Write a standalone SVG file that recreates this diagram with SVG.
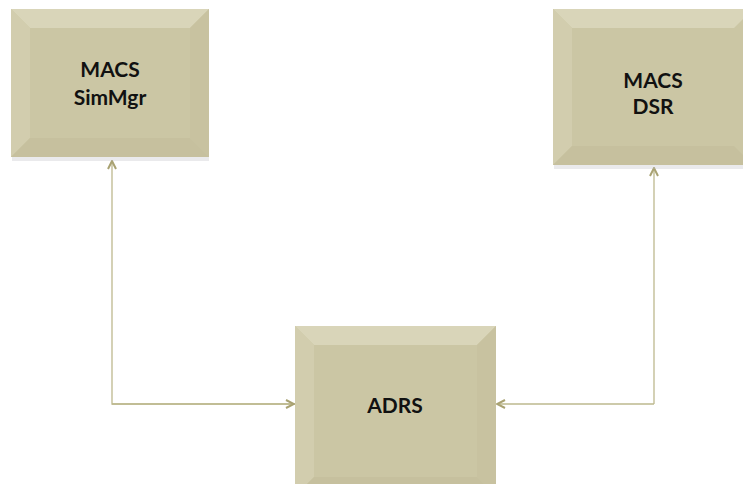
<svg xmlns="http://www.w3.org/2000/svg" width="743" height="484" viewBox="0 0 743 484">
<defs>
<style>
.face{fill:#CBC6A4}
.bt{fill:#D9D5B9}
.bl{fill:#D2CDAE}
.br{fill:#C8C2A0}
.bb{fill:#C6C09E}
.sh{fill:#B8B8C0;opacity:0.3}
.lbl{font-family:"Lato","Open Sans","Liberation Sans",sans-serif;font-weight:bold;font-size:21px;fill:#111;text-anchor:middle}
.conn{fill:none;stroke:#BDB88E;stroke-width:1.3}
</style>
<marker id="ah" viewBox="0 0 10 10" refX="9" refY="5" markerWidth="10" markerHeight="10" markerUnits="userSpaceOnUse" orient="auto">
<path d="M1,1 L9,5 L1,9" fill="none" stroke="#A9A272" stroke-width="2"/>
</marker>
</defs>
<rect width="743" height="484" fill="#FFFFFF"/>
<g id="connectors">
<path class="conn" d="M295,404 H112 V161" marker-end="url(#ah)"/>
<path class="conn" d="M112,404 H294" marker-end="url(#ah)"/>
<path class="conn" d="M654,404 V168" marker-end="url(#ah)"/>
<path class="conn" d="M654,404 H497" marker-end="url(#ah)"/>
</g>
<g id="simmgr">
<rect class="sh" x="12" y="157" width="197" height="4"/>
<rect class="face" x="11" y="9" width="198" height="148"/>
<polygon class="bt" points="11,9 209,9 190,28 30,28"/>
<polygon class="bl" points="11,9 30,28 30,138 11,157"/>
<polygon class="br" points="209,9 209,157 190,138 190,28"/>
<polygon class="bb" points="11,157 209,157 190,138 30,138"/>
<text class="lbl" x="110" y="77">MACS</text>
<text class="lbl" x="110" y="105">SimMgr</text>
</g>
<g id="dsr">
<rect class="sh" x="554" y="165" width="189" height="4"/>
<rect class="face" x="553" y="9" width="200" height="156"/>
<polygon class="bt" points="553,9 753,9 734,28 572,28"/>
<polygon class="bl" points="553,9 572,28 572,146 553,165"/>
<polygon class="bb" points="553,165 753,165 734,146 572,146"/>
<text class="lbl" x="653" y="88">MACS</text>
<text class="lbl" x="653" y="114">DSR</text>
</g>
<g id="adrs">
<rect class="face" x="295" y="326" width="201" height="170"/>
<polygon class="bt" points="295,326 496,326 477,345 314,345"/>
<polygon class="bl" points="295,326 314,345 314,477 295,496"/>
<polygon class="br" points="496,326 496,496 477,477 477,345"/>
<polygon class="bb" points="295,496 496,496 477,477 314,477"/>
<text class="lbl" x="395" y="413">ADRS</text>
</g>
</svg>
